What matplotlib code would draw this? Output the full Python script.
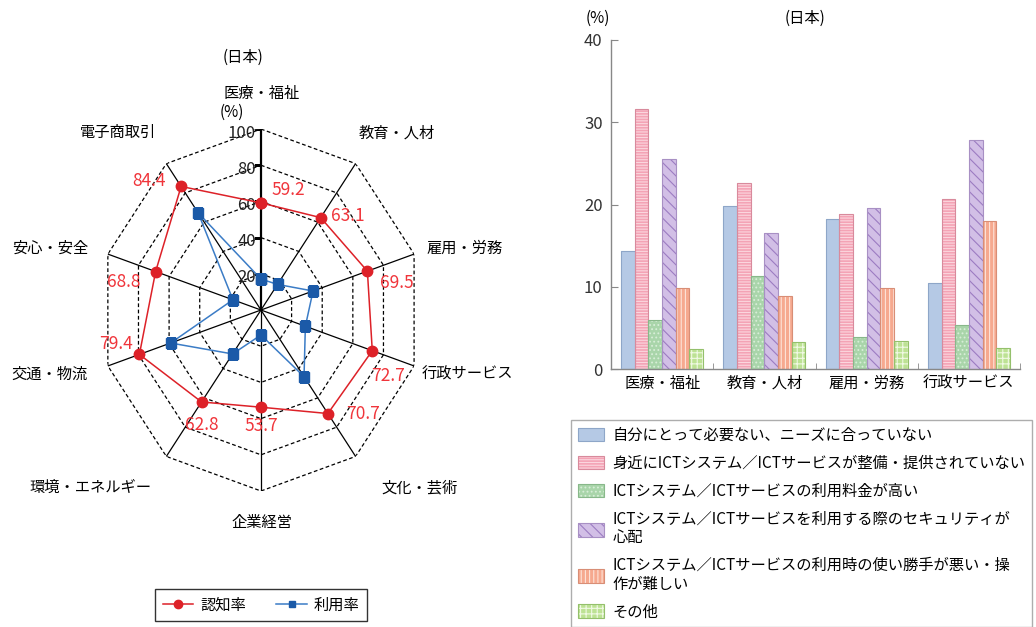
import numpy as np
import matplotlib
matplotlib.use('Agg')
import matplotlib.pyplot as plt
from matplotlib.lines import Line2D
from matplotlib.legend_handler import HandlerTuple

plt.rcParams['font.family'] = ['Noto Sans CJK JP', 'DejaVu Sans']
plt.rcParams['hatch.linewidth'] = 0.8

# radar data (日本)
fields = ['医療・福祉', '教育・人材', '雇用・労務', '行政サービス', '文化・芸術',
          '企業経営', '環境・エネルギー', '交通・物流', '安心・安全', '電子商取引']
awareness = [59.2, 63.1, 69.5, 72.7, 70.7, 53.7, 62.8, 79.4, 68.8, 84.4]
usage = [17.1, 17.5, 34.0, 29.0, 45.5, 13.8, 30.0, 59.0, 18.3, 66.4]
radial_ticks = [20, 40, 60, 80, 100]

# bar data: reasons for not using, by field
bar_fields = ['医療・福祉', '教育・人材', '雇用・労務', '行政サービス']
reasons = ['自分にとって必要ない、ニーズに合っていない',
           '身近にICTシステム／ICTサービスが整備・提供されていない',
           'ICTシステム／ICTサービスの利用料金が高い',
           'ICTシステム／ICTサービスを利用する際のセキュリティが\n心配',
           'ICTシステム／ICTサービスの利用時の使い勝手が悪い・操\n作が難しい',
           'その他']
not_needed = [14.4, 19.8, 18.2, 10.4]
no_service = [31.6, 22.6, 18.8, 20.7]
too_costly = [6.0, 11.3, 3.9, 5.4]
security = [25.5, 16.5, 19.6, 27.8]
hard_to_use = [9.9, 8.9, 9.9, 18.0]
other = [2.4, 3.3, 3.4, 2.6]
bar_series = [not_needed, no_service, too_costly, security, hard_to_use, other]

fig = plt.figure(figsize=(10.36, 6.27), dpi=100)

# ---------- radar ----------
ax = fig.add_axes([0.0965, 0.2169, 0.3108, 0.5773], projection='polar')
ax.set_theta_zero_location('N')
ax.set_theta_direction(-1)
ax.set_aspect('auto')
ax.set_ylim(0, 100)
ax.axis('off')

angles = np.arange(len(fields)) * 2 * np.pi / len(fields)
closed = np.append(angles, angles[0])

for r in radial_ticks:
    ax.plot(closed, [r] * len(closed), color='black', lw=0.9, ls=(0, (3, 2)), zorder=1)
for i, a in enumerate(angles):
    ax.plot([a, a], [0, 100], color='black', lw=1.6 if i == 0 else 0.9, zorder=1)
ax.plot([0] * len(radial_ticks), radial_ticks, ls='none', marker=0, ms=5,
        mew=1.0, color='black', zorder=2)
for r in radial_ticks:
    ax.annotate(str(r), (0, r), xytext=(-5, -4), textcoords='offset pixels',
                ha='right', va='center', fontsize=12, color='#222222')
ax.annotate('(%)', (0, 100), xytext=(-29, 17), textcoords='offset pixels',
            ha='center', va='center', fontsize=11)

label_offsets = [(1, 36), (41, 31), (51, 6), (53, -8), (64, -31),
                 (1, -31), (-76, -31), (-58, -8), (-58, 6), (-48, 31)]
for a, name, off in zip(angles, fields, label_offsets):
    ax.annotate(name, (a, 100), xytext=off, textcoords='offset pixels',
                ha='center', va='center', fontsize=11, annotation_clip=False)

red = '#dd2128'
blue = '#1b5aa8'
ax.plot(closed, awareness + awareness[:1], color=red, lw=1.1, marker='o',
        ms=7.5, zorder=4)
ax.plot(closed, usage + usage[:1], color='#3b7cc6', lw=1.1, marker='s',
        ms=6.5, mfc=blue, mec=blue, zorder=3)

value_offsets = [(27, 13), (27, 2), (29, -12), (16, -25), (35, 0),
                 (0, -19), (0, -23), (-23, 10), (-32, -10), (-32, 5)]
for a, v, off in zip(angles, awareness, value_offsets):
    ax.annotate(f'{v:.1f}', (a, v), xytext=off, textcoords='offset pixels',
                ha='center', va='center', fontsize=12.5, color='#f0353b')

fig.text(243 / 1036, 1 - 57 / 627, '(日本)', ha='center', va='center', fontsize=11)

radar_handles = [Line2D([], [], color=red, lw=1.1, marker='o', ms=6),
                 Line2D([], [], color='#3b7cc6', lw=1.1, marker='s', ms=5,
                        mfc=blue, mec=blue)]
leg1 = fig.legend(radar_handles, ['認知率', '利用率'], loc='center',
                  bbox_to_anchor=(261 / 1036, 1 - 605 / 627), ncol=2,
                  fontsize=11, frameon=True, fancybox=False, edgecolor='black',
                  handlelength=2.0, handletextpad=0.45, columnspacing=2.0,
                  borderpad=0.5, numpoints=1)
leg1.get_frame().set_linewidth(1.0)

# ---------- bars ----------
bx = fig.add_axes([611 / 1036, 1 - 369 / 627, 409 / 1036, 329 / 627])
faces = ['#b5c9e5', '#f4a3b5', '#a9d5aa', '#d2bfe6', '#f6a98f', '#bde294']
hatch_cols = ['#b5c9e5', '#fbd6de', '#d8eed8', '#9c7cc2', '#fde3d8', '#f0f9e4']
hatches = [None, '------', '....', '\\\\\\', '||||', '+++']
edges = ['#8ea6c8', '#d88a9c', '#88b88a', '#a890c4', '#d88e76', '#94c06c']

n = len(bar_series)
w = 0.8 / n
x = np.arange(len(bar_fields))
handles = []
for k, vals in enumerate(bar_series):
    pos = x + 0.1 + w * k + w / 2
    filled = bx.bar(pos, vals, w, color=faces[k], edgecolor=hatch_cols[k],
                    hatch=hatches[k], linewidth=0, zorder=2)
    outline = bx.bar(pos, vals, w, fill=False, edgecolor=edges[k],
                     linewidth=0.8, zorder=3)
    handles.append((filled.patches[0], outline.patches[0]))

bx.set_xlim(0, len(bar_fields))
bx.set_ylim(0, 40)
bx.set_yticks([0, 10, 20, 30, 40])
bx.set_xticks(x + 0.5)
bx.set_xticklabels(bar_fields, fontsize=11)
bx.set_xticks(np.arange(1, len(bar_fields) + 1), minor=True)
bx.tick_params(axis='x', which='major', length=0, pad=4)
bx.tick_params(axis='x', which='minor', direction='in', length=4, color='#888888')
bx.tick_params(axis='y', direction='in', length=5, color='#888888',
               labelsize=12, labelcolor='#333333', pad=6)
for s in ['top', 'right']:
    bx.spines[s].set_visible(False)
for s in ['left', 'bottom']:
    bx.spines[s].set_color('#888888')
    bx.spines[s].set_linewidth(1.0)

fig.text(598 / 1036, 1 - 18 / 627, '(%)', ha='center', va='center', fontsize=11)
fig.text(805 / 1036, 1 - 18 / 627, '(日本)', ha='center', va='center', fontsize=11)

leg2 = fig.legend(handles, reasons, loc='upper left',
                  bbox_to_anchor=(571 / 1036, 1 - 420 / 627),
                  handler_map={tuple: HandlerTuple(ndivide=1)},
                  fontsize=11, frameon=True, fancybox=False, edgecolor='#999999',
                  handlelength=1.7, handleheight=1.0, handletextpad=0.55,
                  labelspacing=0.72, borderpad=0.45, borderaxespad=0)
leg2.get_frame().set_linewidth(1.0)
for t in leg2.get_texts():
    t.set_linespacing(1.1)

fig.savefig('out.png', dpi=100)
